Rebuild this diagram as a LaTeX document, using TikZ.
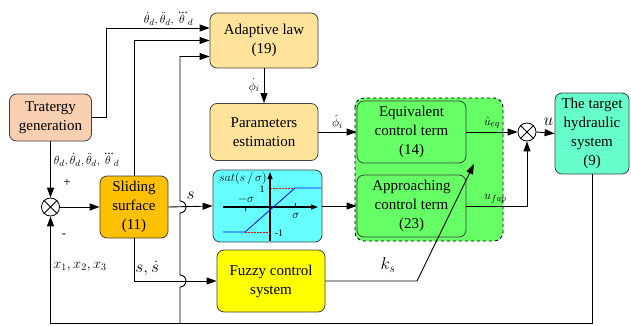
\documentclass[tikz,border=0pt]{standalone}
\usepackage{amsmath}
\usepackage{fontspec}
\setmainfont{Liberation Serif}
\usetikzlibrary{arrows.meta,calc}

\definecolor{tratcol}{HTML}{F8CFB0}
\definecolor{lawcol}{HTML}{FFE39A}
\definecolor{slidecol}{HTML}{FFC000}
\definecolor{satcol}{HTML}{66FFFF}
\definecolor{fuzzcol}{HTML}{FFFF00}
\definecolor{ctrlcol}{HTML}{66FF66}
\definecolor{plantcol}{HTML}{66FFCC}

\begin{document}
\begin{tikzpicture}[x=1pt,y=-1pt,
  block/.style={draw=black!75, rounded corners=7pt, line width=0.8pt, align=center,
    font=\fontsize{15}{19}\selectfont, inner sep=1pt},
  sig/.style={draw, line width=0.9pt, -{Triangle[length=10pt,width=7pt]}},
  junc/.style={circle, draw, fill=white, line width=0.8pt, minimum size=18pt, inner sep=0pt},
  lbl/.style={font=\fontsize{13}{15}\selectfont, inner sep=1pt}]

  \useasboundingbox (0,0) rectangle (631,326);

  % Draw the dashed controller region
  \draw[dashed, fill=ctrlcol, rounded corners=9pt, line width=0.9pt] (355,98) rectangle (503,241);

  % Draw the blocks
  \node[block, fill=tratcol, minimum width=82, minimum height=47] (trat) at (50.5,117.5) {Tratergy\\generation};
  \node[block, fill=lawcol, minimum width=108, minimum height=55] (adapt) at (264,40.5) {Adaptive law\\(19)};
  \node[block, fill=lawcol, minimum width=108, minimum height=57] (param) at (264,132) {Parameters\\estimation};
  \node[block, fill=slidecol, minimum width=68, minimum height=62] (slide) at (134,207) {Sliding\\surface\\(11)};
  \node[block, fill=satcol, minimum width=109, minimum height=72] (satbox) at (267.5,206) {};
  \node[block, fill=fuzzcol, minimum width=108, minimum height=62] (fuzzy) at (271,281) {Fuzzy control\\system};
  \node[block, fill=ctrlcol, minimum width=109, minimum height=62] (equiv) at (411.5,132) {Equivalent\\control term\\(14)};
  \node[block, fill=ctrlcol, minimum width=109, minimum height=62] (approach) at (411.5,206) {Approaching\\control term\\(23)};
  \node[block, fill=plantcol, minimum width=74, minimum height=81] (target) at (592,133.5) {The target\\hydraulic\\system\\(9)};

  % Draw the summing points
  \node[junc] (sumL) at (50.5,207) {};
  \draw[line width=0.8pt] (sumL.north east) -- (sumL.south west) (sumL.north west) -- (sumL.south east);
  \node[junc] (sumR) at (527,132) {};
  \draw[line width=0.8pt] (sumR.north east) -- (sumR.south west) (sumR.north west) -- (sumR.south east);

  % Draw the saturation function
  \draw[-{Triangle[length=7pt,width=5pt]}, line width=1.1pt] (223,207) -- (318,207);
  \draw[-{Triangle[length=7pt,width=5pt]}, line width=1.1pt] (270,241) -- (270,172);
  \draw[line width=0.8pt] (245,207) -- (245,211) (295,207) -- (295,203);
  \draw[red, dash pattern=on 2pt off 1pt, line width=0.7pt] (270,188) -- (295,188) (245,232) -- (270,232);
  \draw[blue, line width=0.8pt] (223,232) -- (245,232) -- (295,188) -- (321,188);
  \node[font=\fontsize{12}{14}\selectfont, inner sep=0pt] (satlbl) at (243,178) {$sat(s\,/\,\sigma)$};
  \node[font=\fontsize{10}{12}\selectfont, inner sep=0pt] (one) at (262,189) {1};
  \node[font=\fontsize{10}{12}\selectfont, inner sep=0pt] (mone) at (279,233) {-1};
  \node[font=\fontsize{13}{15}\selectfont, inner sep=0pt] (msig) at (246,199) {$-\sigma$};
  \node[font=\fontsize{13}{15}\selectfont, inner sep=0pt] (psig) at (296,216) {$\sigma$};

  % Draw the connectors
  \coordinate (bot) at (50.5,323);
  \coordinate (tap) at (180,323);
  \coordinate (kbend) at (417,281);
  \coordinate (ktip) at (474,164);

  \draw[sig] (trat.east) -- ++(15,0) |- ([yshift=12.5pt]adapt.west)
    node[lbl, pos=0.8, above=1pt] {$\dot{\theta}_d,\ddot{\theta}_d,\dddot{\theta}_d$};
  \draw[sig] (slide.north) |- (adapt.west);
  \draw[sig] (tap) -- ($(tap |- fuzzy.west)+(0,6)$) arc[start angle=-90, end angle=90, radius=6pt]
    -- ($(tap |- slide.east)+(0,6)$) arc[start angle=-90, end angle=90, radius=6pt]
    |- ([yshift=-16pt]adapt.west);
  \draw[sig] (adapt.south) -- (param.north) node[lbl, midway, left=3pt] {$\dot{\phi}_i$};
  \draw[sig] (trat.south) -- (sumL.north)
    node[lbl, pos=0.33, right=2pt] {$\theta_d,\dot{\theta}_d,\ddot{\theta}_d,\dddot{\theta}_d$};
  \node[lbl] (plus) at (67,183) {+};
  \draw[sig] (sumL.east) -- (slide.west);
  \draw[sig] (slide.east) -- (satbox.west) node[midway, above=3pt, font=\fontsize{17}{19}\selectfont] {$s$};
  \draw[sig] (slide.south) |- (fuzzy.west)
    node[pos=0.58, above=1pt, font=\fontsize{17}{19}\selectfont] {$s,\dot{s}$};
  \draw[sig] (satbox.east) -- (approach.west);
  \draw[sig] (param.east) -- (equiv.west) node[lbl, midway, above=2pt] {$\hat{\phi}_i$};
  \draw[sig] (equiv.east) -- (sumR.west) node[lbl, midway, above=2pt] {$\hat{u}_{eq}$};
  \draw[sig] (approach.east) -| (sumR.south) node[lbl, pos=0.24, above=1pt] {$u_{fap}$};
  \draw[sig] (sumR.east) -- (target.west)
    node[midway, above=3pt, xshift=3pt, font=\fontsize{18}{20}\selectfont] {$u$};
  \draw[sig] (fuzzy.east) -- (kbend) -- (ktip);
  \node[font=\fontsize{17}{19}\selectfont] (ks) at (388,265) {$k_s$};
  \draw[sig] (target.south) |- (bot) -- (sumL.south);
  \node[lbl] (minus) at (64,236) {-};
  \node[font=\fontsize{14}{16}\selectfont, inner sep=1pt] (xs) at (80,267) {$x_1,x_2,x_3$};

\end{tikzpicture}
\end{document}
